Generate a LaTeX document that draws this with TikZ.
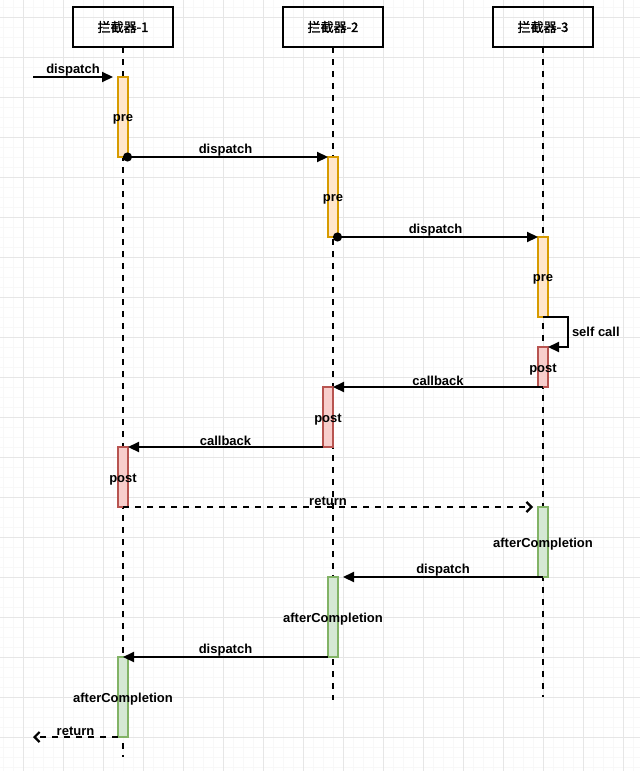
\documentclass[tikz,border=0pt]{standalone}
\usepackage{fontspec}
\setmainfont{Liberation Sans}
\newfontfamily\cjk{Noto Sans CJK SC}[FakeBold=1.6]
\usetikzlibrary{arrows.meta,positioning}
\definecolor{preline}{HTML}{D79B00}
\definecolor{prefill}{HTML}{FFE6CC}
\definecolor{postline}{HTML}{B85450}
\definecolor{postfill}{HTML}{F8CECC}
\definecolor{aftline}{HTML}{82B366}
\definecolor{aftfill}{HTML}{D5E8D4}
\definecolor{gridmajor}{HTML}{E6E6E6}
\definecolor{gridminor}{HTML}{F8F8F8}
\begin{document}
\begin{tikzpicture}[x=1pt,y=-1pt,every node/.style={outer sep=0pt},
		font=\fontsize{13}{15}\selectfont\bfseries,
		head/.style={draw,line width=2.2pt,minimum width=100pt,minimum height=40pt,font=\cjk\fontsize{13}{15}\selectfont},
		life/.style={line width=2.2pt,dash pattern=on 6pt off 6pt},
		act/.style={draw,line width=1.8pt,minimum width=10pt,inner sep=0pt,anchor=north},
		pre/.style={act,draw=preline,fill=prefill,minimum height=80pt},
		post/.style={act,draw=postline,fill=postfill},
		aft/.style={act,draw=aftline,fill=aftfill},
		msg/.style={line width=2.2pt,-{Triangle[length=11pt,width=10pt]}},
		call/.style={msg,{Circle[length=9pt]}-{Triangle[length=11pt,width=10pt]}},
		ret/.style={line width=2.2pt,dash pattern=on 6pt off 6pt,-{Straight Barb[length=5pt,width=10pt]}},
		lbl/.style={inner sep=1pt},
		inlbl/.style={inner sep=1pt,yshift=-2.5pt}]
		
		\useasboundingbox (0,0) rectangle (640,771);
		% grid
		\foreach \X in {3.3,13.3,...,640} \draw[gridminor,line width=1pt] (\X,0) -- (\X,771);
		\foreach \Y in {7.3,17.3,...,771} \draw[gridminor,line width=1pt] (0,\Y) -- (640,\Y);
		\foreach \X in {23.3,63.3,...,640} \draw[gridmajor,line width=1pt] (\X,0) -- (\X,771);
		\foreach \Y in {17.3,57.3,...,771} \draw[gridmajor,line width=1pt] (0,\Y) -- (640,\Y);
		
		\node[head] (h1) at (123,27) {拦截器-1};
		\node[head,right=110pt of h1] (h2) {拦截器-2};
		\node[head,right=110pt of h2] (h3) {拦截器-3};
		
		\draw[life] (h1.south) -- ++(0,710) coordinate (e1);
		\draw[life] (h2.south) -- ++(0,653) coordinate (e2);
		\draw[life] (h3.south) -- ++(0,650) coordinate (e3);
		
		\node[pre,below=30pt of h1,label={[inlbl]center:pre}] (pre1) {};
		\node[pre,below=110pt of h2,label={[inlbl]center:pre}] (pre2) {};
		\node[pre,below=190pt of h3,label={[inlbl]center:pre}] (pre3) {};
		\node[post,minimum height=40pt,below=300pt of h3,label={[inlbl]center:post}] (post3) {};
		\node[post,minimum height=60pt,below=340pt of h2,xshift=-5pt,label={[inlbl]center:post}] (post2) {};
		\node[post,minimum height=60pt,below=400pt of h1,label={[inlbl]center:post}] (post1) {};
		\node[aft,minimum height=70pt,below=460pt of h3,label={[inlbl]center:afterCompletion}] (aft3) {};
		\node[aft,minimum height=80pt,below=530pt of h2,label={[inlbl]center:afterCompletion}] (aft2) {};
		\node[aft,minimum height=80pt,below=610pt of h1,label={[inlbl]center:afterCompletion}] (aft1) {};
		
		\coordinate (in) at (33,77);
		\coordinate (out) at (33,737);
		
		\draw[msg] (in) -- ([xshift=-5pt]pre1.north west) node[lbl,midway,above]{dispatch};
		\draw[call] (pre1.south) -- (pre2.north west) node[lbl,midway,above]{dispatch};
		\draw[call] (pre2.south) -- (pre3.north west) node[lbl,midway,above]{dispatch};
		\draw[msg] (pre3.south) -- ++(25,0) |- node[pos=0.25,right,inner sep=4pt]{self call} (post3.north east);
		\draw[msg] (post3.south) -- (post2.north east) node[lbl,midway,above]{callback};
		\draw[msg] (post2.south west) -- (post1.north east) node[lbl,midway,above]{callback};
		\draw[ret] (post1.south) -- ([xshift=-5pt]aft3.north west) node[lbl,midway,above]{return};
		\draw[msg] (aft3.south) -- ([xshift=5pt]aft2.north east) node[lbl,midway,above]{dispatch};
		\draw[msg] (aft2.south west) -- (aft1.north) node[lbl,midway,above]{dispatch};
		\draw[ret] (aft1.south west) -- (out) node[lbl,midway,above]{return};
		
	\end{tikzpicture}
\end{document}
